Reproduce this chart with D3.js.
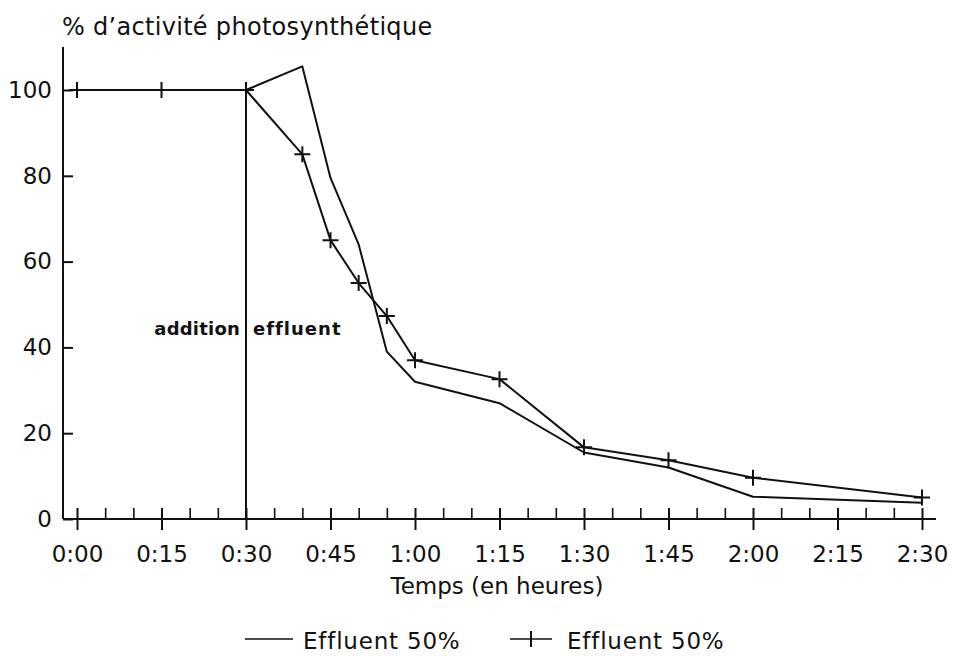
<!DOCTYPE html>
<html>
<head>
<meta charset="utf-8">
<script src="https://cdn.jsdelivr.net/npm/d3@7"></script>
<style>
  html, body { margin: 0; padding: 0; background: #fff; }
  svg { display: block; }
  text { fill: #111; font-family: "DejaVu Sans", sans-serif; }
</style>
</head>
<body>
<svg id="chart" width="957" height="656"></svg>
<script>
// Time after start, in minutes
const times = [0, 15, 30, 40, 45, 50, 55, 60, 75, 90, 105, 120, 150];
// Photosynthetic activity (%), first run (plain line)
const seriesPlain = [100, 100, 100, 105.5, 79.5, 64, 39, 32, 27, 15.5, 12, 5.2, 3.8];
// Photosynthetic activity (%), second run (line with + markers)
const seriesMarked = [100, 100, 100, 85, 65, 55, 47.3, 37, 32.6, 16.7, 13.7, 9.6, 5];
// Axis ticks
const xMajorTicks = [0, 15, 30, 45, 60, 75, 90, 105, 120, 135, 150];
const xTickLabels = ["0:00", "0:15", "0:30", "0:45", "1:00", "1:15", "1:30", "1:45", "2:00", "2:15", "2:30"];
const yTicks = [0, 20, 40, 60, 80, 100];
const legendLabels = ["Effluent 50%", "Effluent 50%"];
const additionTime = 30;

const svg = d3.select("#chart");
const x = d3.scaleLinear().domain([0, 150]).range([77, 922]);
const y = d3.scaleLinear().domain([0, 100]).range([519, 90]);
const axisX0 = 63;

// Axis lines
svg.append("line").attr("x1", axisX0).attr("x2", axisX0).attr("y1", y(0)).attr("y2", 47)
  .attr("stroke", "#111").attr("stroke-width", 2);
svg.append("line").attr("x1", axisX0).attr("x2", 936).attr("y1", y(0)).attr("y2", y(0))
  .attr("stroke", "#111").attr("stroke-width", 2);

// Y axis: inward ticks
const yAxis = d3.axisLeft(y).tickValues(yTicks).tickSizeInner(-10).tickSizeOuter(0).tickPadding(11);
const gy = svg.append("g").attr("transform", `translate(${axisX0},0)`).call(yAxis);
gy.select(".domain").remove();
gy.selectAll(".tick line").attr("stroke", "#111").attr("stroke-width", 2);
gy.selectAll(".tick text").attr("font-size", 23).attr("font-family", "DejaVu Sans").attr("fill", "#111");

// X axis: major ticks crossing the axis
const xAxis = d3.axisBottom(x).tickValues(xMajorTicks)
  .tickFormat((d, i) => xTickLabels[i]).tickSizeInner(11).tickSizeOuter(0).tickPadding(16);
const gx = svg.append("g").attr("transform", `translate(0,${y(0)})`).call(xAxis);
gx.select(".domain").remove();
gx.selectAll(".tick line").attr("y1", -11).attr("stroke", "#111").attr("stroke-width", 2);
gx.selectAll(".tick text").attr("font-size", 23).attr("font-family", "DejaVu Sans").attr("fill", "#111");

// X axis: minor ticks every 5 minutes, drawn upward
const minorTicks = d3.range(0, 151, 5).filter(d => d % 15 !== 0);
const xMinor = d3.axisBottom(x).tickValues(minorTicks).tickFormat("").tickSizeInner(-11).tickSizeOuter(0);
const gxm = svg.append("g").attr("transform", `translate(0,${y(0)})`).call(xMinor);
gxm.select(".domain").remove();
gxm.selectAll(".tick line").attr("stroke", "#111").attr("stroke-width", 1.6);

// Vertical marker for effluent addition
svg.append("line").attr("x1", x(additionTime)).attr("x2", x(additionTime))
  .attr("y1", y(100)).attr("y2", y(0)).attr("stroke", "#111").attr("stroke-width", 2);
svg.append("text").attr("x", x(additionTime) - 6).attr("y", 335).attr("text-anchor", "end")
  .attr("font-size", 18).attr("font-weight", "bold").attr("letter-spacing", 0.2)
  .text("addition");
svg.append("text").attr("x", x(additionTime) + 7).attr("y", 335).attr("text-anchor", "start")
  .attr("font-size", 18).attr("font-weight", "bold").attr("letter-spacing", 1)
  .text("effluent");

// Data lines
const line = d3.line().x((d, i) => x(times[i])).y(d => y(d));
svg.append("path").datum(seriesPlain).attr("d", line)
  .attr("fill", "none").attr("stroke", "#111").attr("stroke-width", 2).attr("stroke-linejoin", "round");
svg.append("path").datum(seriesMarked).attr("d", line)
  .attr("fill", "none").attr("stroke", "#111").attr("stroke-width", 2).attr("stroke-linejoin", "round");

// + markers
const markerG = svg.append("g");
seriesMarked.forEach((v, i) => {
  const cx = x(times[i]), cy = y(v);
  markerG.append("path")
    .attr("d", `M${cx - 8},${cy}H${cx + 8}M${cx},${cy - 8}V${cy + 8}`)
    .attr("stroke", "#111").attr("stroke-width", 2);
});

// Titles
svg.append("text").attr("x", 62).attr("y", 35).attr("font-size", 24).attr("letter-spacing", 0.3)
  .text("% d\u2019activité photosynthétique");
svg.append("text").attr("x", 497).attr("y", 594).attr("text-anchor", "middle")
  .attr("font-size", 23).text("Temps (en heures)");

// Legend
const legY = 639;
svg.append("line").attr("x1", 245).attr("x2", 293).attr("y1", legY).attr("y2", legY)
  .attr("stroke", "#111").attr("stroke-width", 1.6);
svg.append("text").attr("x", 303).attr("y", 649).attr("font-size", 23).attr("letter-spacing", 0.8)
  .text(legendLabels[0]);
svg.append("line").attr("x1", 510).attr("x2", 552).attr("y1", legY).attr("y2", legY)
  .attr("stroke", "#111").attr("stroke-width", 1.6);
svg.append("path").attr("d", `M531,${legY - 8}V${legY + 8}`).attr("stroke", "#111").attr("stroke-width", 2);
svg.append("text").attr("x", 567).attr("y", 649).attr("font-size", 23).attr("letter-spacing", 0.8)
  .text(legendLabels[1]);
</script>
</body>
</html>
